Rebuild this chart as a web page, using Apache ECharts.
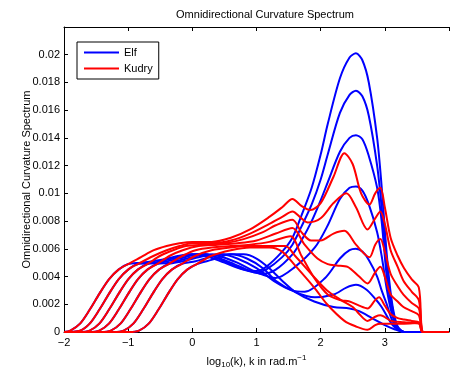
<!DOCTYPE html>
<html><head><meta charset="utf-8">
<script src="https://cdn.jsdelivr.net/npm/echarts@6/dist/echarts.min.js"></script>
<style>html,body{margin:0;padding:0;background:#fff}#c{width:452px;height:374px}</style>
</head><body><div id="c"></div>
<script>
const xTicks = [-2, -1, 0, 1, 2, 3, 4];
const yTicks = [0, 0.002, 0.004, 0.006, 0.008, 0.01, 0.012, 0.014, 0.016, 0.018, 0.02];
const legendNames = ['Elf', 'Kudry'];

const elf1 = [[-2,0],[-1.9,0.0001],[-1.75,0.0006],[-1.6,0.0016],[-1.45,0.00275],[-1.3,0.0038],[-1.15,0.0045],[-1.0,0.0049],[-0.8,0.0050],[-0.5,0.0052],[-0.2,0.0055],[0,0.0056],[0.2,0.0055],[0.5,0.0050],[0.8,0.0045],[1.0,0.0044],[1.15,0.0047],[1.4,0.0058],[1.56,0.0068],[1.7,0.0084],[1.86,0.0104],[2.0,0.0128],[2.11,0.0150],[2.3,0.0183],[2.45,0.0198],[2.55,0.0201],[2.65,0.0196],[2.75,0.0180],[2.88,0.0140],[2.95,0.0105],[3.03,0.0056],[3.1,0.0025],[3.18,0.0006],[3.25,0.0001],[3.3,0],[4,0]];
const elf2 = [[-2,0],[-1.75,0.0001],[-1.6,0.0006],[-1.45,0.0016],[-1.3,0.00275],[-1.15,0.0038],[-1.0,0.0045],[-0.85,0.0049],[-0.6,0.0050],[-0.3,0.0053],[0,0.0056],[0.2,0.0056],[0.5,0.0051],[0.8,0.0045],[1.0,0.0043],[1.15,0.0045],[1.4,0.0054],[1.56,0.0063],[1.7,0.0076],[1.86,0.0092],[2.0,0.0110],[2.11,0.0128],[2.3,0.0158],[2.45,0.0171],[2.55,0.0174],[2.65,0.0170],[2.75,0.0156],[2.88,0.0120],[2.95,0.0090],[3.03,0.0048],[3.1,0.0022],[3.18,0.0005],[3.25,0.0001],[3.3,0],[4,0]];
const elf3 = [[-2,0],[-1.75,0],[-1.6,0.0001],[-1.45,0.0006],[-1.3,0.0016],[-1.15,0.00275],[-1.0,0.0038],[-0.85,0.0045],[-0.7,0.0049],[-0.5,0.0050],[-0.2,0.0053],[0.1,0.0056],[0.3,0.0055],[0.6,0.0050],[0.9,0.0044],[1.1,0.0042],[1.3,0.0045],[1.56,0.0056],[1.7,0.0066],[1.86,0.0080],[2.0,0.0095],[2.11,0.0108],[2.3,0.0130],[2.45,0.0140],[2.55,0.0142],[2.65,0.0139],[2.75,0.0127],[2.88,0.0104],[2.95,0.0080],[3.03,0.0040],[3.1,0.0019],[3.18,0.0005],[3.25,0.0001],[3.3,0],[4,0]];
const elf4 = [[-2,0],[-1.6,0],[-1.45,0.0001],[-1.3,0.0006],[-1.15,0.0016],[-1.0,0.00275],[-0.85,0.0038],[-0.7,0.0045],[-0.55,0.0049],[-0.35,0.0050],[0,0.0054],[0.2,0.0056],[0.4,0.0055],[0.7,0.0050],[1.0,0.0043],[1.3,0.0039],[1.6,0.0047],[1.91,0.0061],[2.1,0.0076],[2.3,0.0096],[2.45,0.0104],[2.55,0.0105],[2.65,0.0102],[2.75,0.0092],[2.88,0.0072],[2.95,0.0055],[3.03,0.0031],[3.1,0.0015],[3.18,0.0004],[3.25,0.0001],[3.3,0],[4,0]];
const elf5 = [[-2,0],[-1.42,0],[-1.27,0.0001],[-1.12,0.0006],[-0.97,0.0016],[-0.82,0.00275],[-0.67,0.0038],[-0.52,0.0045],[-0.37,0.0049],[-0.15,0.0051],[0.2,0.0055],[0.45,0.0056],[0.7,0.0053],[1.0,0.0046],[1.3,0.0036],[1.55,0.0030],[1.75,0.0029],[2.07,0.0039],[2.3,0.0053],[2.45,0.0059],[2.55,0.0060],[2.65,0.0058],[2.75,0.0052],[2.88,0.0040],[2.95,0.0030],[3.03,0.0020],[3.1,0.0010],[3.18,0.0003],[3.25,0.0001],[3.3,0],[4,0]];
const elf6 = [[-2,0],[-1.22,0],[-1.07,0.0001],[-0.92,0.0006],[-0.77,0.0016],[-0.62,0.00275],[-0.47,0.0038],[-0.32,0.0045],[-0.17,0.0049],[0.05,0.0051],[0.35,0.0055],[0.6,0.0056],[0.85,0.0053],[1.1,0.0046],[1.3,0.0037],[1.6,0.0029],[1.91,0.0025],[2.2,0.0027],[2.4,0.0032],[2.55,0.0034],[2.7,0.0031],[2.85,0.0024],[2.95,0.0018],[3.05,0.0010],[3.12,0.0005],[3.2,0.0002],[3.3,0],[4,0]];
const elf7 = [[-2,0],[-0.98,0],[-0.83,0.0001],[-0.68,0.0006],[-0.53,0.0016],[-0.38,0.00275],[-0.23,0.0038],[-0.08,0.0045],[0.07,0.0049],[0.3,0.0052],[0.6,0.0056],[0.8,0.0056],[1.0,0.0053],[1.2,0.0046],[1.4,0.0037],[1.6,0.0029],[1.9,0.0022],[2.2,0.0018],[2.45,0.0017],[2.6,0.0015],[2.8,0.0010],[3.0,0.0005],[3.15,0.0002],[3.3,0],[4,0]];

const kudry1 = [[-2,0],[-1.9,0.0001],[-1.75,0.0006],[-1.6,0.0016],[-1.45,0.00275],[-1.3,0.0038],[-1.15,0.0045],[-1.0,0.0049],[-0.8,0.0054],[-0.6,0.0059],[-0.4,0.0062],[-0.2,0.0064],[0,0.0065],[0.3,0.0065],[0.6,0.0068],[0.9,0.0074],[1.2,0.0083],[1.4,0.0090],[1.56,0.0096],[1.7,0.0091],[1.84,0.0088],[2.0,0.0093],[2.2,0.0112],[2.37,0.0129],[2.5,0.0121],[2.63,0.0100],[2.76,0.0092],[2.85,0.0100],[2.93,0.0104],[3.0,0.0090],[3.09,0.0068],[3.2,0.0055],[3.3,0.0046],[3.42,0.0038],[3.53,0.0032],[3.57,0.0005],[3.6,0],[4,0]];
const kudry2 = [[-2,0],[-1.75,0.0001],[-1.6,0.0006],[-1.45,0.0016],[-1.3,0.00275],[-1.15,0.0038],[-1.0,0.0045],[-0.85,0.0049],[-0.6,0.0055],[-0.4,0.0059],[-0.2,0.0062],[0,0.0064],[0.3,0.0064],[0.6,0.0066],[0.9,0.0071],[1.2,0.0078],[1.4,0.0083],[1.56,0.0087],[1.7,0.0082],[1.8,0.0079],[2.0,0.0082],[2.2,0.0093],[2.4,0.0100],[2.55,0.0090],[2.73,0.0074],[2.85,0.0082],[2.93,0.0087],[3.0,0.0078],[3.09,0.0059],[3.2,0.0047],[3.29,0.0037],[3.42,0.0029],[3.53,0.0023],[3.57,0.0004],[3.6,0],[4,0]];
const kudry3 = [[-2,0],[-1.75,0],[-1.6,0.0001],[-1.45,0.0006],[-1.3,0.0016],[-1.15,0.00275],[-1.0,0.0038],[-0.85,0.0045],[-0.7,0.0049],[-0.5,0.0055],[-0.3,0.0059],[-0.1,0.0062],[0.2,0.0063],[0.5,0.0064],[0.8,0.0067],[1.1,0.0072],[1.3,0.0077],[1.56,0.0081],[1.7,0.0072],[1.85,0.0066],[2.0,0.0066],[2.2,0.0071],[2.37,0.0073],[2.55,0.0063],[2.76,0.0054],[2.85,0.0063],[2.93,0.0067],[3.0,0.0058],[3.09,0.0042],[3.2,0.0033],[3.29,0.0027],[3.42,0.0021],[3.53,0.0017],[3.57,0.0003],[3.6,0],[4,0]];
const kudry4 = [[-2,0],[-1.6,0],[-1.45,0.0001],[-1.3,0.0006],[-1.15,0.0016],[-1.0,0.00275],[-0.85,0.0038],[-0.7,0.0045],[-0.55,0.0049],[-0.35,0.0055],[-0.15,0.0059],[0.1,0.0062],[0.4,0.0063],[0.7,0.0064],[1.0,0.0066],[1.3,0.0071],[1.56,0.0075],[1.75,0.0063],[1.95,0.0053],[2.11,0.0049],[2.25,0.0048],[2.42,0.0047],[2.6,0.0040],[2.73,0.0035],[2.85,0.0043],[2.93,0.0047],[3.0,0.0040],[3.09,0.0027],[3.2,0.0022],[3.29,0.0018],[3.42,0.0015],[3.53,0.0012],[3.57,0.0002],[3.6,0],[4,0]];
const kudry5 = [[-2,0],[-1.42,0],[-1.27,0.0001],[-1.12,0.0006],[-0.97,0.0016],[-0.82,0.00275],[-0.67,0.0038],[-0.52,0.0045],[-0.37,0.0049],[-0.15,0.0055],[0.05,0.0059],[0.3,0.0061],[0.6,0.0062],[0.9,0.0063],[1.2,0.0065],[1.53,0.0069],[1.7,0.0055],[1.9,0.0039],[2.11,0.0027],[2.3,0.0023],[2.45,0.0022],[2.6,0.0019],[2.73,0.0017],[2.85,0.0023],[2.91,0.0025],[3.0,0.0019],[3.09,0.0013],[3.2,0.0010],[3.3,0.0009],[3.42,0.0008],[3.53,0.0007],[3.57,0.0001],[3.6,0],[4,0]];
const kudry6 = [[-2,0],[-1.22,0],[-1.07,0.0001],[-0.92,0.0006],[-0.77,0.0016],[-0.62,0.00275],[-0.47,0.0038],[-0.32,0.0045],[-0.17,0.0049],[0.05,0.0055],[0.3,0.0059],[0.6,0.0061],[0.9,0.0062],[1.2,0.0062],[1.45,0.0062],[1.6,0.0055],[1.91,0.0039],[2.1,0.0030],[2.32,0.0023],[2.5,0.0018],[2.6,0.0013],[2.73,0.0008],[2.85,0.0011],[2.93,0.0012],[3.1,0.0008],[3.3,0.0007],[3.53,0.0006],[3.57,0.0001],[3.6,0],[4,0]];
const kudry7 = [[-2,0],[-0.98,0],[-0.83,0.0001],[-0.68,0.0006],[-0.53,0.0016],[-0.38,0.00275],[-0.23,0.0038],[-0.08,0.0045],[0.07,0.0049],[0.3,0.0055],[0.6,0.0059],[0.9,0.0061],[1.2,0.0061],[1.4,0.0058],[1.6,0.0048],[1.9,0.0032],[2.1,0.0020],[2.37,0.0008],[2.55,0.0004],[2.73,0.00016],[2.85,0.0005],[2.93,0.0006],[3.1,0.0006],[3.3,0.0006],[3.54,0.00065],[3.57,0.0001],[3.6,0],[4,0]];

const elfCurves = [elf1, elf2, elf3, elf4, elf5, elf6, elf7];
const kudryCurves = [kudry1, kudry2, kudry3, kudry4, kudry5, kudry6, kudry7];

const font = 'Liberation Sans, Arial, Helvetica, sans-serif';
const chart = echarts.init(document.getElementById('c'), null, {renderer: 'canvas'});
const series = [];
elfCurves.forEach(d => series.push({type: 'line', name: legendNames[0], data: d, symbol: 'none', smooth: 0.3, lineStyle: {color: '#0000ff', width: 2}, itemStyle: {color: '#0000ff'}, z: 2, silent: true}));
kudryCurves.forEach(d => series.push({type: 'line', name: legendNames[1], data: d, symbol: 'none', smooth: 0.3, lineStyle: {color: '#ff0000', width: 2}, itemStyle: {color: '#ff0000'}, z: 3, silent: true}));

const axisCommon = {
  axisLine: {show: true, onZero: false, lineStyle: {color: '#000', width: 1}},
  axisTick: {show: true, inside: true, length: 4, lineStyle: {color: '#000'}},
  splitLine: {show: false}
};
const showX = v => xTicks.slice(0, -1).indexOf(Math.round(v)) >= 0;
chart.setOption({
  animation: false,
  backgroundColor: '#fff',
  title: {text: 'Omnidirectional Curvature Spectrum', left: 260, top: 4, textAlign: 'center',
    textStyle: {fontFamily: font, fontSize: 11, fontWeight: 'normal', color: '#000'}},
  legend: {data: legendNames, orient: 'vertical', left: 77, top: 42, selectedMode: false,
    icon: 'rect', itemWidth: 35, itemHeight: 2, itemGap: 5,
    padding: [5, 6, 5, 7], borderColor: '#000', borderWidth: 1, backgroundColor: '#fff',
    textStyle: {fontFamily: font, fontSize: 11, color: '#000'}},
  grid: {left: 64, top: 27, width: 392, bottom: 39, containLabel: false},
  xAxis: [
    Object.assign({type: 'value', min: xTicks[0], max: xTicks[xTicks.length - 1], interval: 1, position: 'bottom',
      name: '{a|log}{s|10}{a|(k), k in rad.m}{p|\u22121}', nameLocation: 'middle', nameGap: 22,
      nameTextStyle: {fontFamily: font, color: '#000', rich: {
        a: {fontFamily: font, fontSize: 11, color: '#000'},
        s: {fontFamily: font, fontSize: 8, color: '#000', padding: [7, 0, 0, 0]},
        p: {fontFamily: font, fontSize: 8, color: '#000', padding: [0, 0, 7, 0]}}},
      axisLabel: {fontFamily: font, fontSize: 11, color: '#000', margin: 5,
        formatter: v => (showX(v) ? (v < 0 ? '\u2212' + Math.abs(v) : String(v)) : '')}}, axisCommon),
    Object.assign({type: 'value', min: xTicks[0], max: xTicks[xTicks.length - 1], interval: 1, position: 'top',
      axisLabel: {show: false}}, axisCommon)
  ],
  yAxis: [
    Object.assign({type: 'value', min: 0, max: 0.022, interval: 0.002, position: 'left',
      name: 'Omnidirectional Curvature Spectrum', nameLocation: 'middle', nameRotate: 90, nameGap: 32,
      nameMoveOverlap: false,
      nameTextStyle: {fontFamily: font, fontSize: 11, color: '#000'},
      axisLabel: {fontFamily: font, fontSize: 11, color: '#000', margin: 4, showMaxLabel: false,
        formatter: v => (yTicks.some(t => Math.abs(t - v) < 1e-9) ? String(+v.toFixed(3)) : '')}}, axisCommon)
  ],
  series: series
});
</script></body></html>
